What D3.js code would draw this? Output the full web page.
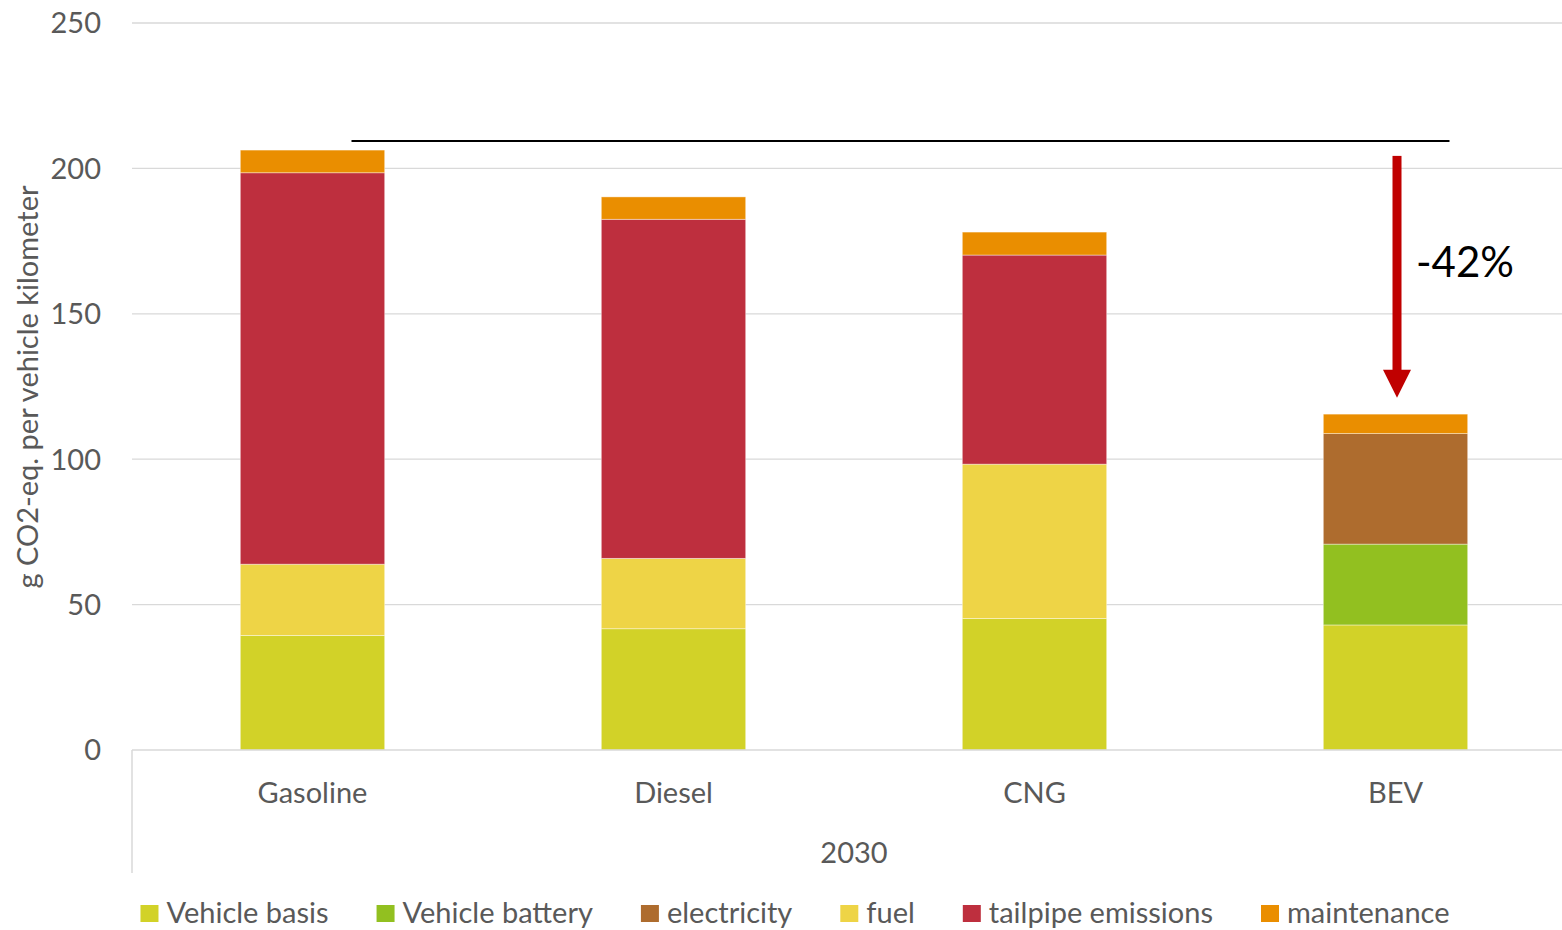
<!DOCTYPE html>
<html>
<head>
<meta charset="utf-8">
<script src="https://cdn.jsdelivr.net/npm/d3@7"></script>
<style>
   html, body { margin: 0; padding: 0; background: #fff; }
   svg { display: block; font-family: Lato, 'Noto Sans', sans-serif; }
</style>
</head>
<body>
<div id="chart"></div>
<script>

// CATEGORIES & SERIES
var categories = ['Gasoline', 'Diesel', 'CNG', 'BEV'];
var groupLabel = '2030';
var seriesNames = ['Vehicle basis', 'Vehicle battery', 'electricity', 'fuel', 'tailpipe emissions', 'maintenance'];
var seriesColors = ['#d2d228', '#92c020', '#ae6c2e', '#eed446', '#be2f3e', '#ea8e00'];

// VALUES PER SERIES (g CO2-eq. per vehicle km)
var vehicleBasis = [39.4, 41.7, 45.2, 43.0];
var vehicleBattery = [0, 0, 0, 27.8];
var electricity = [0, 0, 0, 38.0];
var fuel = [24.5, 24.2, 53.1, 0];
var tailpipe = [134.6, 116.6, 71.9, 0];
var maintenance = [7.8, 7.7, 7.9, 6.7];

// AXIS TICKS
var yTicks = [0, 50, 100, 150, 200, 250];

// ANNOTATION
var reductionLabel = '-42%';

// SETTINGS
var settings = {
   width: 1562,
   height: 930,
   left: 132,
   bandEnd: 1576,
   top: 23,
   bottom: 750,
   text: '#595959',
   grid: '#d9d9d9',
   arrow: '#c00000'
}

// BUILD ROWS FOR STACK
var seriesValues = [vehicleBasis, vehicleBattery, electricity, fuel, tailpipe, maintenance];
var rows = categories.map((c, i) => {
   var row = { category: c };
   seriesNames.forEach((s, j) => { row[s] = seriesValues[j][i] });
   return row;
})
var stacked = d3.stack().keys(seriesNames)(rows);

// SCALES
var xScale = d3.scaleBand()
   .domain(categories)
   .range([settings.left, settings.bandEnd])
   .paddingInner(0.6)
   .paddingOuter(0.3)

var yScale = d3.scaleLinear()
   .domain([0, 250])
   .range([settings.bottom, settings.top])

var color = d3.scaleOrdinal().domain(seriesNames).range(seriesColors);

// CANVAS
var canvas = d3.select('#chart').append('svg')
   .attr('width', settings.width)
   .attr('height', settings.height)

// GRIDLINES
canvas.append('g')
   .selectAll('line')
   .data(yTicks.filter(d => d > 0))
      .enter().append('line')
         .attr('x1', settings.left)
         .attr('x2', settings.width)
         .attr('y1', d => yScale(d))
         .attr('y2', d => yScale(d))
         .attr('stroke', settings.grid)
         .attr('stroke-width', 1.3)

// Y AXIS LABELS
var yAxis = canvas.append('g')
   .attr('transform', 'translate(' + (settings.left - 31) + ',0)')
   .call(d3.axisLeft(yScale).tickValues(yTicks).tickSize(0).tickPadding(0))
yAxis.select('.domain').remove();
yAxis.selectAll('text')
   .attr('fill', settings.text)
   .attr('font-size', 29)
   .attr('font-family', 'Lato, sans-serif')
   .attr('dy', '0.34em')

// Y AXIS TITLE
canvas.append('text')
   .attr('transform', 'translate(38,' + 387 + ') rotate(-90)')
   .attr('text-anchor', 'middle')
   .attr('fill', settings.text)
   .attr('font-size', 29)
   .text('g CO2-eq. per vehicle kilometer')

// STACKED BARS
canvas.append('g')
   .selectAll('g')
   .data(stacked)
      .enter().append('g')
         .attr('fill', d => color(d.key))
         .selectAll('rect')
         .data(d => d.filter(p => p[1] - p[0] > 0))
            .enter().append('rect')
               .attr('x', d => xScale(d.data.category))
               .attr('width', xScale.bandwidth())
               .attr('y', d => yScale(d[1]))
               .attr('height', d => yScale(d[0]) - yScale(d[1]))
               .attr('stroke', 'rgba(255,255,255,0.5)')
               .attr('stroke-width', 0.8)

// X AXIS LINE & GROUP DIVIDER
canvas.append('line')
   .attr('x1', settings.left).attr('x2', settings.width)
   .attr('y1', yScale(0)).attr('y2', yScale(0))
   .attr('stroke', settings.grid).attr('stroke-width', 1.5)
canvas.append('line')
   .attr('x1', settings.left).attr('x2', settings.left)
   .attr('y1', yScale(0)).attr('y2', 873)
   .attr('stroke', settings.grid).attr('stroke-width', 1.5)

// CATEGORY LABELS
canvas.append('g')
   .selectAll('text')
   .data(categories)
      .enter().append('text')
         .attr('x', d => xScale(d) + xScale.bandwidth() / 2)
         .attr('y', 803)
         .attr('text-anchor', 'middle')
         .attr('fill', settings.text)
         .attr('font-size', 29)
         .text(d => d)

// GROUP LABEL
canvas.append('text')
   .attr('x', (xScale('Diesel') + xScale('CNG') + xScale.bandwidth()) / 2)
   .attr('y', 863)
   .attr('text-anchor', 'middle')
   .attr('fill', settings.text)
   .attr('font-size', 29)
   .text(groupLabel)

// REFERENCE LINE & REDUCTION ARROW
var totals = rows.map(r => d3.sum(seriesNames, s => r[s]));
var gasCx = xScale('Gasoline') + xScale.bandwidth() / 2;
var bevCx = xScale('BEV') + xScale.bandwidth() / 2;

canvas.append('line')
   .attr('x1', gasCx + 39)
   .attr('x2', bevCx + 54)
   .attr('y1', yScale(totals[0] + 3.1))
   .attr('y2', yScale(totals[0] + 3.1))
   .attr('stroke', '#000')
   .attr('stroke-width', 2)

var arrowTop = yScale(totals[0] - 2);
var arrowTip = yScale(totals[3] + 5.6);
var arrowX = bevCx + 1.5;
canvas.append('rect')
   .attr('x', arrowX - 4.5)
   .attr('y', arrowTop)
   .attr('width', 9)
   .attr('height', arrowTip - arrowTop - 25)
   .attr('fill', settings.arrow)
canvas.append('path')
   .attr('d', d3.line()([[arrowX - 14, arrowTip - 28], [arrowX + 14, arrowTip - 28], [arrowX, arrowTip]]) + 'Z')
   .attr('fill', settings.arrow)

canvas.append('text')
   .attr('x', arrowX + 19)
   .attr('y', yScale(162.6))
   .attr('fill', '#000')
   .attr('font-size', 42)
   .text(reductionLabel)

// LEGEND
var legend = canvas.append('g');
var items = legend.selectAll('g')
   .data(seriesNames)
      .enter().append('g')
items.append('rect')
   .attr('width', 18)
   .attr('height', 17)
   .attr('y', 905)
   .attr('fill', d => color(d))
items.append('text')
   .attr('x', 26)
   .attr('y', 923)
   .attr('fill', settings.text)
   .attr('font-size', 29)
   .text(d => d)

var offset = 0;
var positions = [];
items.each(function () {
   positions.push(offset);
   offset += 26 + this.querySelector('text').getComputedTextLength() + 48;
})
var legendWidth = offset - 48;
var legendStart = 795 - legendWidth / 2;
items.attr('transform', (d, i) => 'translate(' + (legendStart + positions[i]) + ',0)')

</script>
</body>
</html>
